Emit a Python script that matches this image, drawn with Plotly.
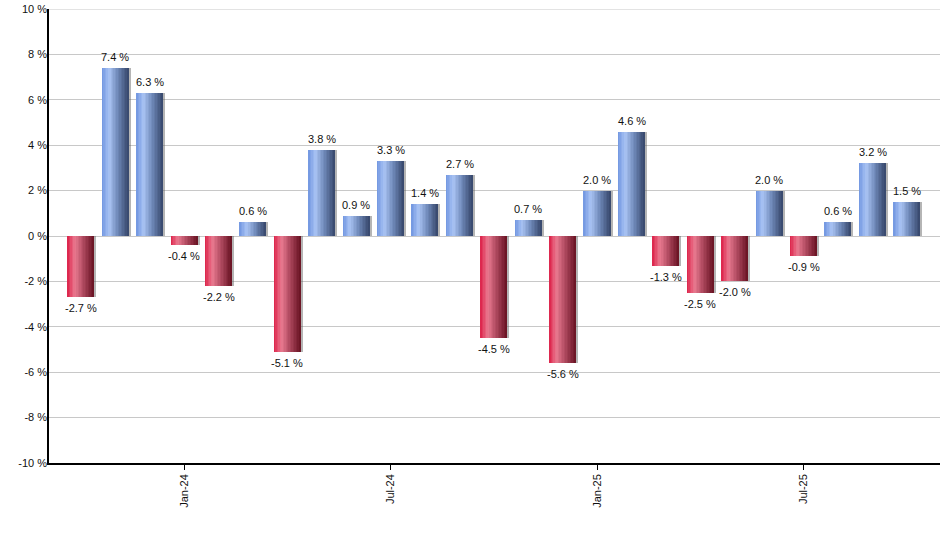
import plotly.graph_objects as go

months = ["Oct-23", "Nov-23", "Dec-23", "Jan-24", "Feb-24", "Mar-24", "Apr-24", "May-24",
          "Jun-24", "Jul-24", "Aug-24", "Sep-24", "Oct-24", "Nov-24", "Dec-24", "Jan-25",
          "Feb-25", "Mar-25", "Apr-25", "May-25", "Jun-25", "Jul-25", "Aug-25", "Sep-25", "Oct-25"]
returns = [-2.7, 7.4, 6.3, -0.4, -2.2, 0.6, -5.1, 3.8, 0.9, 3.3, 1.4, 2.7, -4.5, 0.7,
           -5.6, 2.0, 4.6, -1.3, -2.5, -2.0, 2.0, -0.9, 0.6, 3.2, 1.5]
tick_labels = ["Jan-24", "Jul-24", "Jan-25", "Jul-25"]
y_ticks = [-10, -8, -6, -4, -2, 0, 2, 4, 6, 8, 10]

blue_stops = [(0.0, (0x70, 0x95, 0xe0)), (0.28, (0xaa, 0xc4, 0xf4)), (0.6, (0x70, 0x8a, 0xba)), (1.0, (0x36, 0x46, 0x6a))]
red_stops = [(0.0, (0xdc, 0x20, 0x48)), (0.28, (0xea, 0x7a, 0x90)), (0.6, (0xb0, 0x4a, 0x60)), (1.0, (0x68, 0x12, 0x22))]


def interp(stops, t):
    for (t0, c0), (t1, c1) in zip(stops[:-1], stops[1:]):
        if t0 <= t <= t1:
            f = (t - t0) / (t1 - t0)
            return "rgb(%d,%d,%d)" % tuple(round(a + (b - a) * f) for a, b in zip(c0, c1))
    return "rgb(%d,%d,%d)" % stops[-1][1]


x = list(range(len(months)))
pos_x = [i for i, v in zip(x, returns) if v >= 0]
pos_y = [v for v in returns if v >= 0]
neg_x = [i for i, v in zip(x, returns) if v < 0]
neg_y = [v for v in returns if v < 0]

W = 0.77
N = 18
fig = go.Figure()

# shadow
fig.add_trace(go.Bar(x=x, y=returns, width=W, offset=-W / 2 + 0.06,
                     marker=dict(color="rgba(90,90,90,0.45)", line=dict(width=0)),
                     hoverinfo="skip"))

for k in range(N):
    t = (k + 0.5) / N
    off = -W / 2 + k * W / N
    wd = W / N * 1.08 if k < N - 1 else W / N
    fig.add_trace(go.Bar(x=pos_x, y=pos_y, width=wd, offset=off,
                         marker=dict(color=interp(blue_stops, t), line=dict(width=0)),
                         hoverinfo="skip"))
    fig.add_trace(go.Bar(x=neg_x, y=neg_y, width=wd, offset=off,
                         marker=dict(color=interp(red_stops, t), line=dict(width=0)),
                         hoverinfo="skip"))

for i, v in zip(x, returns):
    fig.add_annotation(
        x=i, y=v, text="%.1f %%" % v, showarrow=False,
        yanchor="bottom" if v >= 0 else "top",
        yshift=3 if v >= 0 else -3,
        font=dict(family="Liberation Sans, Arial", size=11, color="#111111"))

# top gridline at the upper range edge
fig.add_shape(type="line", xref="paper", x0=0, x1=1, yref="y", y0=y_ticks[-1], y1=y_ticks[-1],
              line=dict(color="#c8c8c8", width=1), layer="below")

fig.update_layout(
    width=940, height=550,
    margin=dict(l=49, r=0, t=9, b=87),
    paper_bgcolor="white", plot_bgcolor="white",
    barmode="overlay", bargap=0,
    showlegend=False, hovermode=False,
    font=dict(family="Liberation Sans, Arial", size=11, color="#111111"),
)
fig.update_xaxes(
    range=[-0.93, 24.96],
    automargin=False,
    tickmode="array",
    tickvals=[months.index(t) for t in tick_labels],
    ticktext=tick_labels,
    tickangle=-90,
    ticks="outside", ticklen=5, tickcolor="black",
    showline=True, linecolor="black", linewidth=1.5,
    showgrid=False, zeroline=False,
)
fig.update_yaxes(
    range=[-10, 10],
    automargin=False,
    tickmode="array",
    tickvals=y_ticks,
    ticktext=["%d %%" % v for v in y_ticks],
    showline=True, linecolor="black", linewidth=1.5,
    showgrid=True, gridcolor="#c8c8c8", gridwidth=1,
    zeroline=False, ticks="", ticklen=0,
    ticklabelstandoff=-2,
)

fig.write_html("out.html", config={"displayModeBar": False},
               post_script="document.body.style.margin='0';")
